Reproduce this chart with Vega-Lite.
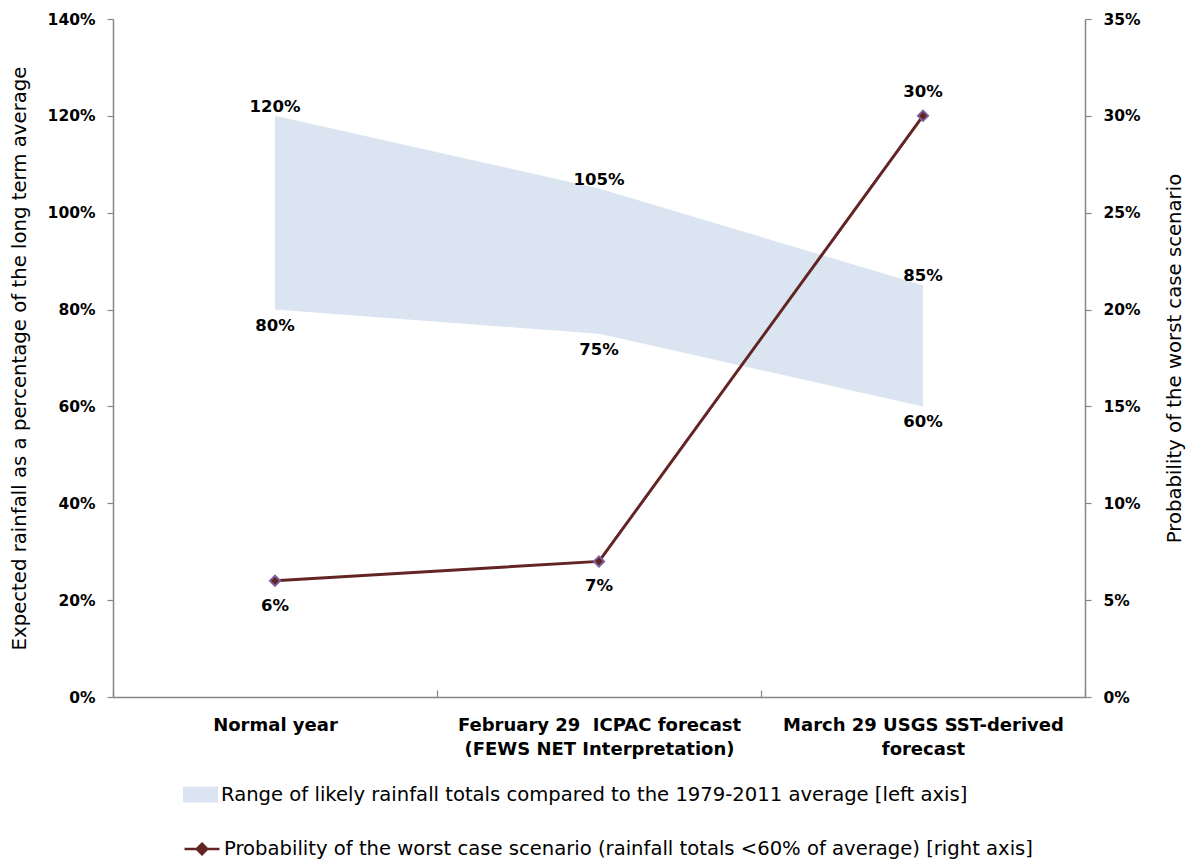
{
  "$schema": "https://vega.github.io/schema/vega-lite/v6.json",
  "width": 972,
  "height": 678,
  "autosize": {"type": "none"},
  "padding": {"left": 113, "top": 19, "right": 103, "bottom": 164},
  "background": "white",
  "config": {
    "view": {"stroke": null},
    "font": "DejaVu Sans",
    "axis": {
      "labelFont": "DejaVu Sans", "labelFontWeight": "bold", "labelFontSize": 15.5, "labelColor": "black",
      "domainColor": "#868686", "tickColor": "#868686", "domainWidth": 1.5, "tickWidth": 1.2,
      "grid": false, "titleFont": "DejaVu Sans", "titleFontWeight": "normal", "titleFontSize": 19.7, "titleColor": "black"
    },
    "legend": {"labelFont": "DejaVu Sans", "labelFontSize": 19.6, "labelColor": "black", "labelLimit": 0}
  },
  "data": {
    "values": [
      {"cat": "Normal year", "low": 0.8, "high": 1.2, "prob": 0.06},
      {"cat": "February 29\u00a0 ICPAC forecast\n(FEWS NET Interpretation)", "low": 0.75, "high": 1.05, "prob": 0.07},
      {"cat": "March 29 USGS SST-derived\nforecast", "low": 0.6, "high": 0.85, "prob": 0.30}
    ]
  },
  "layer": [
    {
      "layer": [
        {
          "mark": {"type": "area", "color": "#dbe5f1", "opacity": 1},
          "encoding": {
            "x": {
              "field": "cat", "type": "nominal", "sort": null, "bandPosition": 0.5,
              "scale": {"paddingInner": 0, "paddingOuter": 0},
              "axis": {
                "title": null, "labelAngle": 0, "tickBand": "extent", "tickSize": -7,
                "labelPadding": 26, "labelBaseline": "top", "labelLimit": 400, "labelLineHeight": 24,
                "labelFontSize": 18, "labelExpr": "split(datum.label, '\\n')"
              }
            },
            "y": {
              "field": "low", "type": "quantitative",
              "scale": {"domain": [0, 1.4]},
              "axis": {
                "title": "Expected rainfall as a percentage of the long term average",
                "format": ".0%", "values": [0, 0.2, 0.4, 0.6, 0.8, 1.0, 1.2, 1.4],
                "tickSize": 6, "labelPadding": 12, "titlePadding": 18
              }
            },
            "y2": {"field": "high"},
            "fill": {
              "datum": "Range of likely rainfall totals compared to the 1979-2011 average [left axis]",
              "type": "nominal",
              "scale": {"range": ["#dbe5f1"]},
              "legend": {
                "title": null, "orient": "none", "legendX": 70, "legendY": 758,
                "symbolType": "M-1,-0.45H1V0.45H-1Z", "symbolSize": 1225, "symbolStrokeWidth": 0,
                "labelOffset": 3
              }
            }
          }
        },
        {
          "mark": {"type": "text", "baseline": "alphabetic", "dy": -4, "fontWeight": "bold", "fontSize": 16.5, "color": "black"},
          "encoding": {
            "x": {"field": "cat", "type": "nominal", "sort": null, "bandPosition": 0.5},
            "y": {"field": "high", "type": "quantitative"},
            "text": {"field": "high", "format": ".0%"}
          }
        },
        {
          "mark": {"type": "text", "baseline": "top", "dy": 8, "fontWeight": "bold", "fontSize": 16.5, "color": "black"},
          "encoding": {
            "x": {"field": "cat", "type": "nominal", "sort": null, "bandPosition": 0.5},
            "y": {"field": "low", "type": "quantitative"},
            "text": {"field": "low", "format": ".0%"}
          }
        }
      ]
    },
    {
      "layer": [
        {
          "mark": {"type": "line", "strokeWidth": 3},
          "encoding": {
            "x": {"field": "cat", "type": "nominal", "sort": null, "bandPosition": 0.5},
            "y": {
              "field": "prob", "type": "quantitative",
              "scale": {"domain": [0, 0.35]},
              "axis": {
                "orient": "right", "title": "Probability of the worst case scenario",
                "format": ".0%", "values": [0, 0.05, 0.1, 0.15, 0.2, 0.25, 0.3, 0.35],
                "tickSize": 6, "labelPadding": 12, "titlePadding": 44, "titleAngle": 270
              }
            },
            "stroke": {
              "datum": "Probability of the worst case scenario (rainfall totals <60% of average) [right axis]",
              "type": "nominal",
              "scale": {"range": ["#632523"]},
              "legend": {
                "title": null, "orient": "none", "legendX": 70, "legendY": 811,
                "symbolType": "M-1,0H-0.3M0.3,0H1M0,-0.3L0.3,0L0,0.3L-0.3,0Z", "symbolSize": 1225,
                "symbolStrokeWidth": 2.5, "symbolFillColor": "#632523",
                "labelOffset": 3
              }
            }
          }
        },
        {
          "mark": {"type": "point", "shape": "diamond", "filled": true, "fill": "#632523", "stroke": "#8064a2", "strokeWidth": 1.8, "size": 110, "opacity": 1},
          "encoding": {
            "x": {"field": "cat", "type": "nominal", "sort": null, "bandPosition": 0.5},
            "y": {"field": "prob", "type": "quantitative"}
          }
        },
        {
          "transform": [{"filter": "datum.prob < 0.1"}],
          "mark": {"type": "text", "baseline": "top", "dy": 17, "fontWeight": "bold", "fontSize": 16.5, "color": "black"},
          "encoding": {
            "x": {"field": "cat", "type": "nominal", "sort": null, "bandPosition": 0.5},
            "y": {"field": "prob", "type": "quantitative"},
            "text": {"field": "prob", "format": ".0%"}
          }
        },
        {
          "transform": [{"filter": "datum.prob >= 0.1"}],
          "mark": {"type": "text", "baseline": "alphabetic", "dy": -19, "fontWeight": "bold", "fontSize": 16.5, "color": "black"},
          "encoding": {
            "x": {"field": "cat", "type": "nominal", "sort": null, "bandPosition": 0.5},
            "y": {"field": "prob", "type": "quantitative"},
            "text": {"field": "prob", "format": ".0%"}
          }
        }
      ]
    }
  ],
  "resolve": {"scale": {"y": "independent"}}
}
